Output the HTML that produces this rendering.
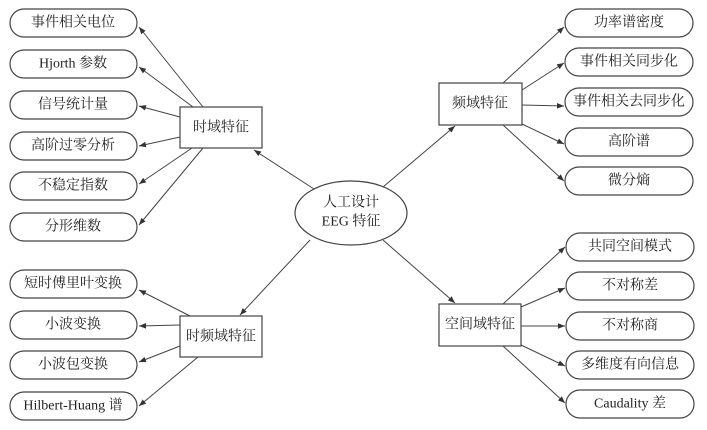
<!DOCTYPE html>
<html><head><meta charset="utf-8"><style>
html,body{margin:0;padding:0;background:#fff;}
svg{display:block;}
text{font-family:"Liberation Serif","Noto Serif CJK SC",serif;font-size:14px;fill:#222;text-anchor:middle;dominant-baseline:central;}
.p{fill:#fff;stroke:#444;stroke-width:1.2;}
.l{stroke:#444;stroke-width:1;fill:none;marker-end:url(#a);}
</style></head><body>
<svg width="707" height="430" viewBox="0 0 707 430" xmlns="http://www.w3.org/2000/svg">
<defs><marker id="a" viewBox="0 0 10 10" refX="10" refY="5" markerWidth="7" markerHeight="7" orient="auto"><path d="M0,1 L10,5 L0,9 z" fill="#333"/></marker></defs>
<!-- left top pills -->
<g>
<rect class="p" x="10" y="9" width="127" height="28" rx="14"/><text x="73" y="23">事件相关电位</text>
<rect class="p" x="10" y="50" width="127" height="28" rx="14"/><text x="73" y="64">Hjorth 参数</text>
<rect class="p" x="10" y="91" width="127" height="28" rx="14"/><text x="73" y="105">信号统计量</text>
<rect class="p" x="10" y="132" width="127" height="28" rx="14"/><text x="73" y="146">高阶过零分析</text>
<rect class="p" x="10" y="172" width="127" height="28" rx="14"/><text x="73" y="186">不稳定指数</text>
<rect class="p" x="10" y="213" width="127" height="28" rx="14"/><text x="73" y="227">分形维数</text>
</g>
<rect class="p" x="180" y="107" width="82" height="41"/><text x="221" y="128">时域特征</text>
<path class="l" d="M203,107 L139,27"/>
<path class="l" d="M193,107 L139,67"/>
<path class="l" d="M180,117 L139,106"/>
<path class="l" d="M180,137 L139,146"/>
<path class="l" d="M192,148 L139,184"/>
<path class="l" d="M203,148 L139,225"/>
<!-- center -->
<ellipse class="p" cx="351" cy="213" rx="56" ry="32"/>
<text x="351" y="203">人工设计</text><text x="351" y="222">EEG 特征</text>
<path class="l" d="M314,189 L254,150"/>
<path class="l" d="M383,187 L455,126"/>
<path class="l" d="M310,240 L240,315"/>
<path class="l" d="M383,240 L455,303"/>
<!-- freq -->
<rect class="p" x="439" y="83" width="83" height="42"/><text x="480" y="104">频域特征</text>
<rect class="p" x="565" y="9" width="128" height="28" rx="14"/><text x="629" y="23">功率谱密度</text>
<rect class="p" x="565" y="48" width="128" height="28" rx="14"/><text x="629" y="62">事件相关同步化</text>
<rect class="p" x="565" y="88" width="128" height="28" rx="14"/><text x="629" y="102">事件相关去同步化</text>
<rect class="p" x="565" y="128" width="128" height="28" rx="14"/><text x="629" y="142">高阶谱</text>
<rect class="p" x="565" y="167" width="128" height="28" rx="14"/><text x="629" y="181">微分熵</text>
<path class="l" d="M503,83 L564,27"/>
<path class="l" d="M522,90 L564,63"/>
<path class="l" d="M522,105 L564,106"/>
<path class="l" d="M522,124 L564,144"/>
<path class="l" d="M503,125 L564,181"/>
<!-- time-freq -->
<rect class="p" x="180" y="316" width="82" height="41"/><text x="221" y="337">时频域特征</text>
<rect class="p" x="10" y="270" width="127" height="28" rx="14"/><text x="73" y="284">短时傅里叶变换</text>
<rect class="p" x="10" y="311" width="127" height="28" rx="14"/><text x="73" y="325">小波变换</text>
<rect class="p" x="10" y="351" width="127" height="28" rx="14"/><text x="73" y="365">小波包变换</text>
<rect class="p" x="10" y="392" width="127" height="28" rx="14"/><text x="73" y="406">Hilbert-Huang 谱</text>
<path class="l" d="M190,316 L139,290"/>
<path class="l" d="M180,325 L139,326"/>
<path class="l" d="M180,346 L139,362"/>
<path class="l" d="M198,357 L139,406"/>
<!-- spatial -->
<rect class="p" x="439" y="304" width="82" height="42"/><text x="480" y="325">空间域特征</text>
<rect class="p" x="566" y="233" width="128" height="28" rx="14"/><text x="630" y="247">共同空间模式</text>
<rect class="p" x="566" y="272" width="128" height="28" rx="14"/><text x="630" y="286">不对称差</text>
<rect class="p" x="566" y="312" width="128" height="28" rx="14"/><text x="630" y="326">不对称商</text>
<rect class="p" x="566" y="351" width="128" height="28" rx="14"/><text x="630" y="365">多维度有向信息</text>
<rect class="p" x="566" y="390" width="128" height="28" rx="14"/><text x="630" y="404">Caudality 差</text>
<path class="l" d="M503,304 L565,247"/>
<path class="l" d="M521,307 L565,288"/>
<path class="l" d="M521,326 L565,326"/>
<path class="l" d="M521,345 L565,366"/>
<path class="l" d="M503,346 L565,403"/>
</svg>
</body></html>
